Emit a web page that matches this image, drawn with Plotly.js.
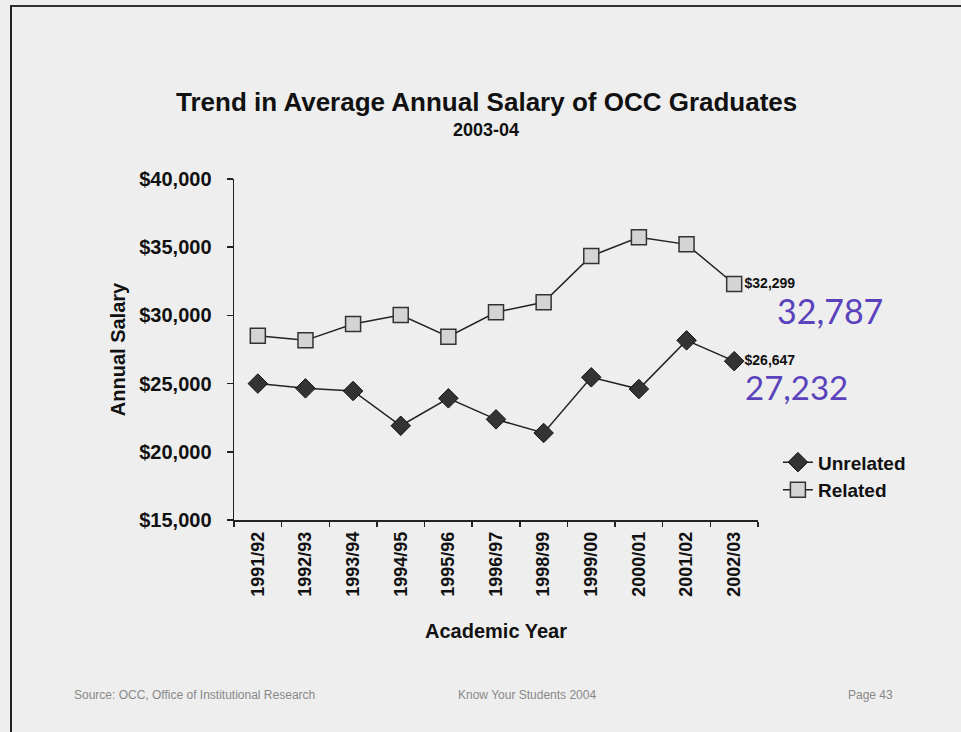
<!DOCTYPE html>
<html>
<head>
<meta charset="utf-8">
<script src="https://cdn.plot.ly/plotly-3.0.1.min.js"></script>
<style>
  html, body { margin:0; padding:0; background:#eeeeee; width:961px; height:732px; overflow:hidden; }
  #chart { position:absolute; left:0; top:0; width:961px; height:732px; }
  #frame { position:absolute; left:10px; top:5px; width:960px; height:740px;
           border-left:2px solid #222; border-top:2px solid #333; pointer-events:none; }
</style>
</head>
<body>
<div id="chart"></div>
<div id="frame"></div>
<script>
const years = ["1991/92","1992/93","1993/94","1994/95","1995/96","1996/97","1998/99","1999/00","2000/01","2001/02","2002/03"];
const unrelated = [25000, 24650, 24460, 21910, 23920, 22380, 21380, 25460, 24600, 28170, 26647];
const related   = [28510, 28170, 29370, 30030, 28440, 30230, 30960, 34355, 35730, 35210, 32299];
const yTicks = [15000, 20000, 25000, 30000, 35000, 40000];
const yTickText = ["$15,000","$20,000","$25,000","$30,000","$35,000","$40,000"];
const handNotes = ["32,787", "27,232"];

const FONT = "Liberation Sans, Arial, sans-serif";
const fmt = v => "$" + v.toLocaleString("en-US");
const lastLabel = arr => arr.map((v,i) => i === arr.length-1 ? "<b>" + fmt(v) + "</b>" : "");

const traces = [
  {
    name: "Unrelated", x: years, y: unrelated, type: "scatter", mode: "lines+markers+text",
    line: {color:"#222", width:1.5},
    marker: {symbol:"diamond", size:15, color:"#333", line:{color:"#111", width:1}},
    text: lastLabel(unrelated), textposition:"middle right",
    textfont: {family:FONT, size:14, color:"#111"}, cliponaxis:false
  },
  {
    name: "Related", x: years, y: related, type: "scatter", mode: "lines+markers+text",
    line: {color:"#222", width:1.5},
    marker: {symbol:"square", size:15, color:"#d4d4d4", line:{color:"#333", width:1.5}},
    text: lastLabel(related), textposition:"middle right",
    textfont: {family:FONT, size:14, color:"#111"}, cliponaxis:false
  }
];

const ann = (text, x, y, size, color, family) => ({
  text, x, y, xref:"paper", yref:"paper", xanchor:"center", yanchor:"middle",
  showarrow:false, font:{family: family || FONT, size, color}
});

const layout = {
  width:961, height:732, autosize:false,
  paper_bgcolor:"#eeeeee", plot_bgcolor:"#eeeeee",
  margin:{l:234, r:203, t:179, b:212},
  font:{family:FONT, color:"#111"},
  showlegend:true,
  legend:{x:1.038, xanchor:"left", y:0.225, yanchor:"top", bgcolor:"rgba(0,0,0,0)",
          font:{family:FONT, size:19, weight:"bold", color:"#111"}, tracegroupgap:0, itemwidth:30},
  xaxis:{
    type:"category", range:[-0.5, years.length-0.5], tickson:"boundaries",
    ticks:"outside", ticklen:5, tickwidth:1.5, tickcolor:"#222",
    showline:true, linecolor:"#222", linewidth:1.5, showgrid:false, zeroline:false,
    tickangle:-90, ticklabelstandoff:3,
    tickfont:{family:FONT, size:18, weight:"bold", color:"#111"},
    title:{text:"Academic Year", font:{family:FONT, size:20, weight:"bold", color:"#111"}, standoff:28}
  },
  yaxis:{
    range:[15000, 40000], tickvals:yTicks, ticktext:yTickText,
    ticks:"outside", ticklen:6, tickwidth:1.5, tickcolor:"#222",
    showline:true, linecolor:"#222", linewidth:1.5, showgrid:false, zeroline:false,
    ticklabelstandoff:11,
    tickfont:{family:FONT, size:20, weight:"bold", color:"#111"},
    title:{text:"Annual Salary", font:{family:FONT, size:20, weight:"bold", color:"#111"}, standoff:8}
  },
  annotations:[
    ann("<b>Trend in Average Annual Salary of OCC Graduates</b>", 0.481, 1.226, 26, "#111"),
    ann("<b>2003-04</b>", 0.481, 1.144, 18, "#111"),
    ann(handNotes[0], 1.137, 0.613, 34, "#5a42bc", "Lato, DejaVu Sans, sans-serif"),
    ann(handNotes[1], 1.074, 0.390, 33, "#5a42bc", "Lato, DejaVu Sans, sans-serif"),
    ann("Source: OCC, Office of Institutional Research", -0.076, -0.513, 12, "#888"),
    ann("Know Your Students 2004", 0.56, -0.513, 12, "#888"),
    ann("Page 43", 1.214, -0.513, 12, "#888")
  ]
};

Plotly.newPlot("chart", traces, layout, {displayModeBar:false, staticPlot:true});
</script>
</body>
</html>
